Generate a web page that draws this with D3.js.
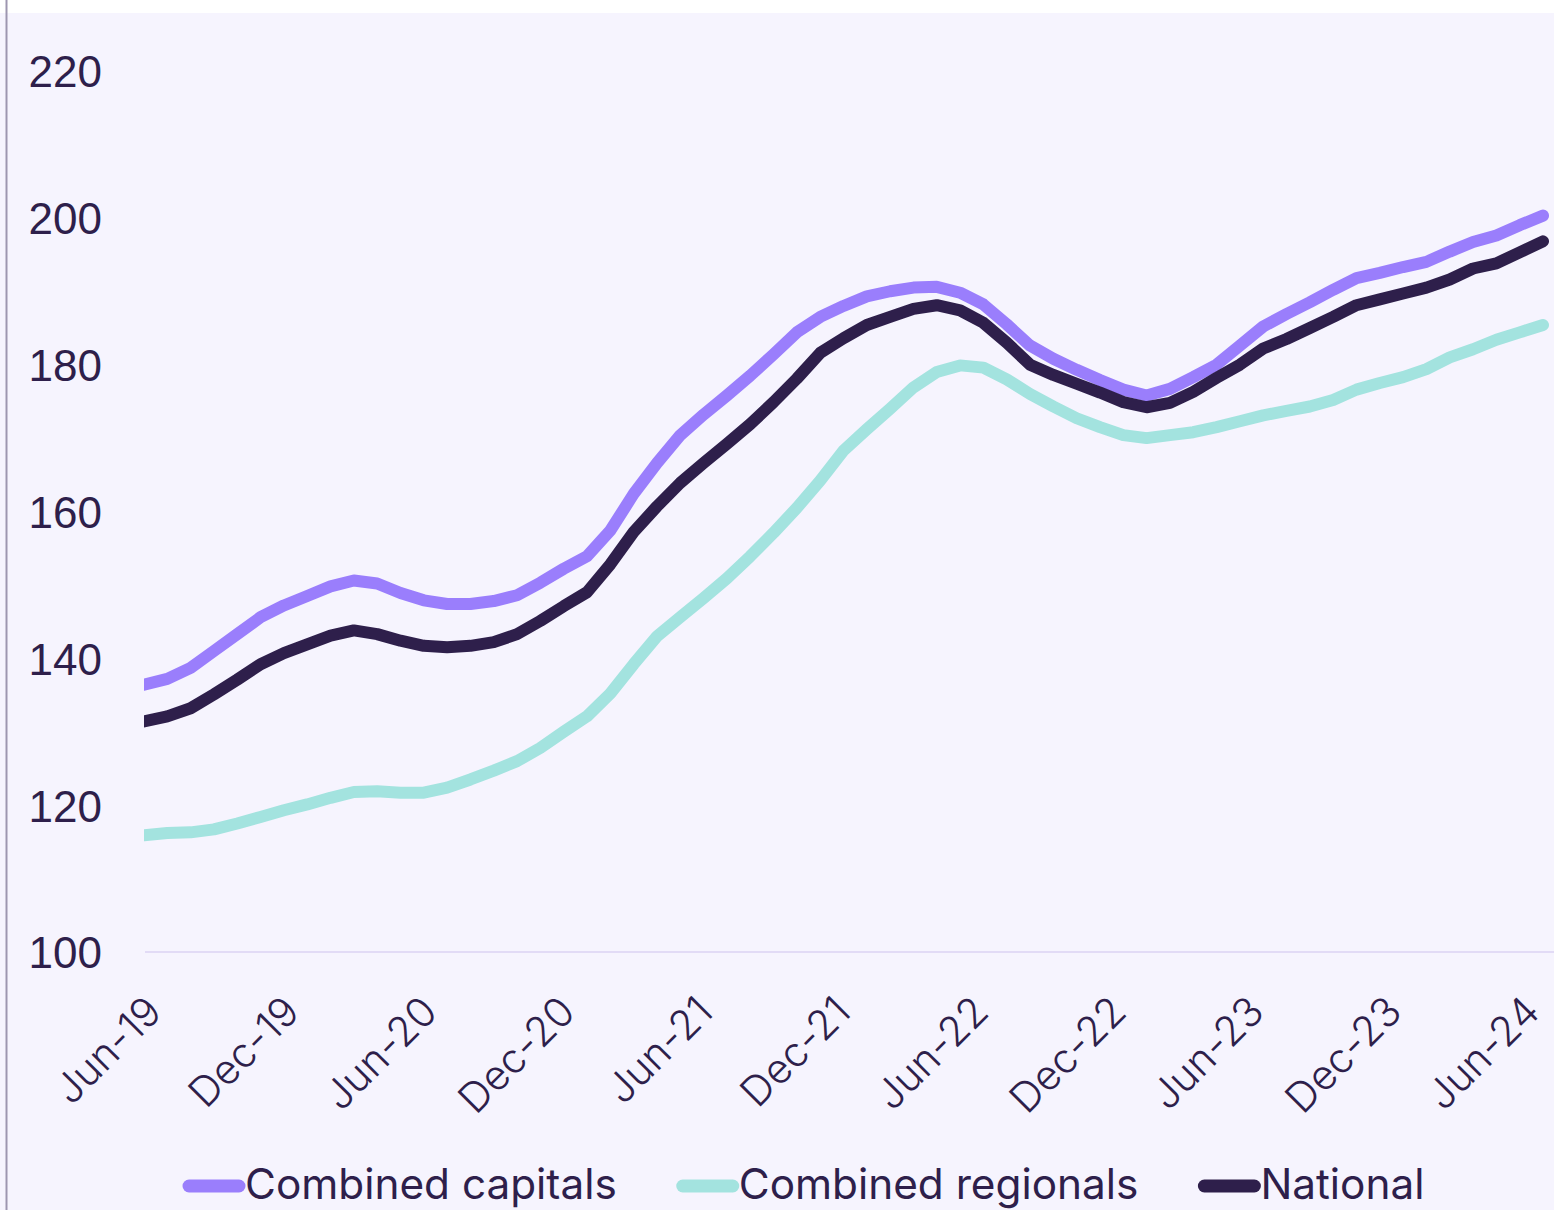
<!DOCTYPE html>
<meta charset="utf-8">
<style>
  body {
    margin: 0;
    background: #ffffff;
    font-family: 'Inter', 'Roboto', sans-serif;
  }

  .tick text {
    fill: #2e1f4b;
    font-weight: 300;
  }

  .legend text {
    fill: #2e1f4b;
    font-size: 42.3px;
  }
</style>

<body>
  <div id="chart"></div>
  <script src="https://d3js.org/d3.v7.min.js"></script>

  <script>
    // monthly index values, Jun-19 .. Jun-24
    var capitals = [136.4, 137.2, 138.7, 141.0, 143.3, 145.6, 147.2, 148.5, 149.8, 150.6,
      150.2, 148.9, 147.9, 147.4, 147.4, 147.8, 148.6, 150.3, 152.2, 153.9,
      157.4, 162.4, 166.6, 170.4, 173.2, 175.8, 178.5, 181.4, 184.4, 186.5,
      188.0, 189.3, 190.0, 190.5, 190.6, 189.8, 188.2, 185.5, 182.6, 180.8,
      179.3, 177.9, 176.6, 175.8, 176.7, 178.3, 180.0, 182.6, 185.2, 186.9,
      188.5, 190.2, 191.8, 192.5, 193.3, 194.0, 195.4, 196.7, 197.6, 199.0, 200.3];

    var regionals = [115.9, 116.2, 116.3, 116.7, 117.5, 118.4, 119.3, 120.1, 121.0, 121.8,
      121.9, 121.7, 121.7, 122.4, 123.5, 124.7, 126.0, 127.8, 130.0, 132.1,
      135.2, 139.2, 143.0, 145.6, 148.2, 150.9, 153.9, 157.1, 160.5, 164.2,
      168.3, 171.2, 174.0, 176.9, 179.0, 179.9, 179.6, 178.0, 176.0, 174.3,
      172.7, 171.5, 170.4, 170.0, 170.4, 170.8, 171.5, 172.3, 173.1, 173.7,
      174.3, 175.2, 176.6, 177.5, 178.3, 179.4, 181.0, 182.1, 183.4, 184.4, 185.4];

    var national = [131.4, 132.1, 133.2, 135.1, 137.1, 139.2, 140.7, 141.9, 143.1, 143.8,
      143.3, 142.4, 141.7, 141.5, 141.7, 142.2, 143.3, 145.1, 147.1, 149.0,
      152.8, 157.2, 160.7, 163.9, 166.6, 169.2, 171.9, 174.9, 178.1, 181.6,
      183.6, 185.4, 186.5, 187.6, 188.1, 187.4, 185.7, 183.0, 180.0, 178.6,
      177.4, 176.2, 174.9, 174.2, 174.8, 176.3, 178.2, 180.0, 182.2, 183.5,
      185.0, 186.5, 188.1, 188.9, 189.7, 190.5, 191.6, 193.1, 193.8, 195.3, 196.8];

    var xLabels = ["Jun-19", "Dec-19", "Jun-20", "Dec-20", "Jun-21", "Dec-21",
      "Jun-22", "Dec-22", "Jun-23", "Dec-23", "Jun-24"];
    var yTicks = [100, 120, 140, 160, 180, 200, 220];

    var seriesNames = ["Combined capitals", "Combined regionals", "National"];
    var seriesColors = ["#9a7efc", "#a3e3df", "#2e1f4b"];
    var seriesData = [capitals, regionals, national];

    var width = 1554,
      height = 1210;

    var svg = d3.select("#chart")
      .append("svg")
      .attr("width", width)
      .attr("height", height)
      .style("display", "block");

    // background: white strip on top, lavender panel below
    svg.append("rect")
      .attr("x", 0).attr("y", 0)
      .attr("width", width).attr("height", height)
      .style("fill", "#ffffff");
    svg.append("rect")
      .attr("x", 0).attr("y", 13)
      .attr("width", width).attr("height", height - 13)
      .style("fill", "#f6f4fe");
    svg.append("line")
      .attr("x1", 6.5).attr("x2", 6.5)
      .attr("y1", 0).attr("y2", height)
      .style("stroke", "#9d96b0")
      .style("stroke-width", 2);

    var x = d3.scaleLinear()
      .domain([0, capitals.length - 1])
      .range([144, 1543]);

    // rotated tick labels end a little right of the points
    var xl = d3.scaleLinear()
      .domain([0, capitals.length - 1])
      .range([164, 1542]);

    var y = d3.scaleLinear()
      .domain([100, 220])
      .range([952, 71]);

    // baseline gridline at 100
    svg.append("line")
      .attr("x1", 145).attr("x2", width)
      .attr("y1", y(100)).attr("y2", y(100))
      .style("stroke", "#e2dbf6")
      .style("stroke-width", 2);

    // y axis labels
    var yAxis = svg.append("g")
      .attr("transform", "translate(102,0)")
      .call(d3.axisLeft(y).tickValues(yTicks).tickSize(0).tickPadding(0));
    yAxis.select(".domain").remove();
    yAxis.selectAll("text")
      .style("font-size", "44px")
      .attr("dy", "0.36em");

    // x axis labels, rotated
    svg.append("g")
      .attr("class", "tick")
      .selectAll("text")
      .data(xLabels)
      .enter()
      .append("text")
      .attr("transform", function(d, i) {
        return "translate(" + xl(i * 6) + ",1014) rotate(-45)";
      })
      .attr("text-anchor", "end")
      .style("font-size", "41px")
      .text(function(d) { return d; });

    // lines
    svg.append("clipPath")
      .attr("id", "plotclip")
      .append("rect")
      .attr("x", 144).attr("y", 0)
      .attr("width", width - 144).attr("height", height);

    var line = d3.line()
      .x(function(d, i) { return x(i); })
      .y(function(d) { return y(d); });

    svg.append("g")
      .attr("clip-path", "url(#plotclip)")
      .selectAll("path")
      .data(seriesData)
      .enter()
      .append("path")
      .attr("d", line)
      .style("fill", "none")
      .style("stroke", function(d, i) { return seriesColors[i]; })
      .style("stroke-width", 12)
      .style("stroke-linejoin", "round")
      .style("stroke-linecap", "round");

    // legend
    var legend = svg.append("g").attr("class", "legend");
    var lx = 183;
    seriesNames.forEach(function(name, i) {
      legend.append("line")
        .attr("x1", lx + 6).attr("x2", lx + 56)
        .attr("y1", 1186).attr("y2", 1186)
        .style("stroke", seriesColors[i])
        .style("stroke-width", 13)
        .style("stroke-linecap", "round");
      var t = legend.append("text")
        .attr("x", lx + 62)
        .attr("y", 1199)
        .text(name);
      lx = lx + 62 + t.node().getComputedTextLength() + 60;
    });
  </script>
</body>
